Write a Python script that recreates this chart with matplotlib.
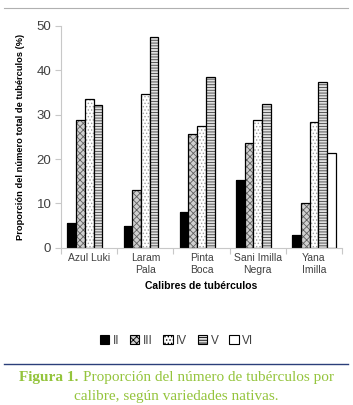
import matplotlib.pyplot as plt
import numpy as np
from matplotlib.lines import Line2D
from matplotlib.patches import Patch

categories = ['Azul Luki', 'Laram\nPala', 'Pinta\nBoca', 'Sani Imilla\nNegra', 'Yana\nImilla']
series = ['II', 'III', 'IV', 'V', 'VI']
val_II = [5.6, 5.0, 8.1, 15.2, 2.8]
val_III = [28.7, 13.1, 25.6, 23.6, 10.2]
val_IV = [33.6, 34.6, 27.5, 28.7, 28.4]
val_V = [32.2, 47.5, 38.6, 32.4, 37.3]
val_VI = [0, 0, 0, 0, 21.4]
yticks = [0, 10, 20, 30, 40, 50]

values = [val_II, val_III, val_IV, val_V, val_VI]
# face colour, hatch, hatch colour
styles = [
    ('black', None, 'black'),
    ('#d0d0d0', 'xxxxx', '#606060'),
    ('white', '.....', '#a0a0a0'),
    ('#e0e0e0', '------', '#404040'),
    ('white', None, 'black'),
]

plt.rcParams['font.family'] = ['Liberation Sans', 'DejaVu Sans']
plt.rcParams['hatch.linewidth'] = 0.6

fig = plt.figure(figsize=(3.53, 4.05), dpi=100)
ax = fig.add_axes([0.173, 0.388, 0.796, 0.548])

x = np.arange(len(categories))
w = 0.155
for i, (vals, (fc, hatch, hc)) in enumerate(zip(values, styles)):
    pos = x - 2.5 * w + w / 2 + i * w
    for xp, v in zip(pos, vals):
        if v <= 0:
            continue
        ax.bar(xp, v, w, color=fc, edgecolor=hc, hatch=hatch, linewidth=0)
        ax.bar(xp, v, w, facecolor='none', edgecolor='black', linewidth=0.9)

ax.set_xlim(-0.5, len(categories) - 0.5)
ax.set_ylim(0, 50)
ax.set_yticks(yticks)
ax.set_xticks(np.arange(len(categories) + 1) - 0.5)
ax.set_xticklabels([])
ax.set_xticks(x, minor=True)
ax.set_xticklabels(categories, minor=True, fontsize=7.5, color='#404040')
ax.tick_params(axis='x', which='minor', length=0, pad=4)
ax.tick_params(axis='x', which='major', length=4, color='#c8c8c8')
ax.tick_params(axis='y', length=4, color='#c8c8c8', labelsize=9.5, labelcolor='#404040', pad=3)
for s in ['top', 'right']:
    ax.spines[s].set_visible(False)
for s in ['left', 'bottom']:
    ax.spines[s].set_color('#c8c8c8')
    ax.spines[s].set_linewidth(0.8)

ax.set_xlabel('Calibres de tubérculos', fontsize=7.5, fontweight='bold', labelpad=4)
ax.set_ylabel('Proporción del número total de tubérculos (%)', fontsize=6.7,
              fontweight='bold', labelpad=8)

handles = [Patch(facecolor=fc, edgecolor='black', hatch=h, linewidth=0.8)
           for fc, h, hc in styles]
fig.legend(handles, series, loc='center', bbox_to_anchor=(0.5, 0.158), ncol=5,
           frameon=False, fontsize=8.5, handlelength=0.8, handleheight=0.8,
           handletextpad=0.3, columnspacing=0.9, labelcolor='#404040')

# separator lines
fig.add_artist(Line2D([0.01, 0.985], [0.98, 0.98], color='#b0b0b0', linewidth=0.8))
fig.add_artist(Line2D([0.01, 0.985], [0.101, 0.101], color='#2b3f7a', linewidth=1.0))

# caption: bold "Figura 1." followed by regular text, centred as one line
green = '#94c43c'
cap_kw = dict(fontsize=11, color=green, family='Liberation Serif', va='center')
renderer = fig.canvas.get_renderer()
t1 = fig.text(0, 0.067, 'Figura 1. ', fontweight='bold', ha='left', **cap_kw)
t2 = fig.text(0, 0.067, 'Proporción del número de tubérculos por', ha='left', **cap_kw)
w1 = t1.get_window_extent(renderer).width
w2 = t2.get_window_extent(renderer).width
W = fig.bbox.width
x0 = (W - w1 - w2) / 2
t1.set_x(x0 / W)
t2.set_x((x0 + w1) / W)
fig.text(0.5, 0.022, 'calibre, según variedades nativas.', ha='center', **cap_kw)

fig.savefig('out.png', dpi=100)
